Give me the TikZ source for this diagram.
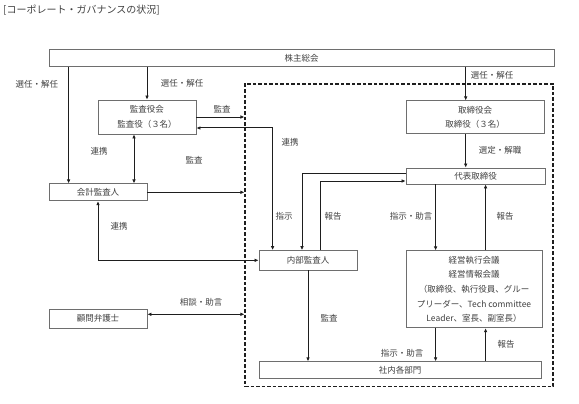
\documentclass[tikz,border=0pt]{standalone}
\usepackage{fontspec}
\setmainfont{Noto Sans CJK JP}
\usepackage{tikz}
\usetikzlibrary{calc}
\usetikzlibrary{positioning}
\usetikzlibrary{arrows.meta}

\definecolor{moji}{HTML}{404040}
\definecolor{waku}{HTML}{6E6E6E}
\definecolor{sen}{HTML}{1E1E1E}

\begin{document}
\begin{tikzpicture}[x=1pt, y=-1pt,
		every node/.style={font=\fontsize{8.5}{14.6}\selectfont, text=moji, inner sep=0pt},
		hako/.style={draw=waku, line width=0.8pt, fill=white, align=center},
		yaji/.style={draw=sen, line width=0.75pt, -{Latex[length=4pt, width=3.6pt]}},
		ryou/.style={draw=sen, line width=0.75pt, {Latex[length=4pt, width=3.6pt]}-{Latex[length=4pt, width=3.6pt]}},
		futo/.style={line width=1pt}
	]
		\useasboundingbox (0, 0) rectangle (579, 404);
		
		\node[anchor=west, font=\fontsize{10}{11}\selectfont] (title) at (3, 10) {[コーポレート・ガバナンスの状況]};
		
		% dashed frame
		\node[draw=sen, line width=1.1pt, dash pattern=on 3.5pt off 2pt, minimum width=308pt, minimum height=302.7pt] (kaisha) at (399, 235.35) {};
		
		\node[hako, minimum width=505pt, minimum height=16.7pt] (kabunushi) at (301.5, 58) {株主総会};
		\node[hako, minimum width=98pt, minimum height=34pt] (kansa) at (147, 117) {監査役会\\監査役（３名）};
		\node[hako, minimum width=138pt, minimum height=33pt] (torishimari) at (475, 117.3) {取締役会\\取締役（３名）};
		\node[hako, minimum width=139pt, minimum height=16pt] (daihyo) at (475.5, 176) {代表取締役};
		\node[hako, minimum width=98pt, minimum height=17pt] (kaikei) at (98, 192.3) {会計監査人};
		\node[hako, minimum width=98pt, minimum height=19.5pt] (naibu) at (308, 260.3) {内部監査人};
		\node[hako, minimum width=136pt, minimum height=77pt] (keiei) at (474, 289.3)
			{経営執行会議\\経営情報会議\\（取締役、執行役員、グルー\\プリーダー、Tech committee\\Leader、室長、副室長）};
		\node[hako, minimum width=282pt, minimum height=16.5pt] (shanai) at (400, 370) {社内各部門};
		\node[hako, minimum width=98pt, minimum height=19pt] (komon) at (98, 318.5) {顧問弁護士};
		
		\coordinate (p1) at ($(kaikei.north west)+(20, 0)$);
		\coordinate (p2) at ($(torishimari.north)+(-9.3, 0)$);
		\coordinate (p3) at ($(kansa.east)+(0, 11)$);
		\coordinate (p4) at ($(naibu.north west)+(14, 0)$);
		\coordinate (p5) at ($(daihyo.west)+(0, -3)$);
		\coordinate (p6) at ($(naibu.north)+(-6, 0)$);
		\coordinate (p7) at ($(naibu.north)+(12, 0)$);
		\coordinate (p8) at ($(daihyo.west)+(0, 5)$);
		\coordinate (p9) at ($(kansa.south)+(-13, 0)$);
		\coordinate (p10) at ($(keiei.north west)+(30, 0)$);
		\coordinate (p11) at ($(keiei.north west)+(80, 0)$);
		\coordinate (p12) at ($(komon.east)+(0, -4.2)$);
		
		\draw[yaji] (kabunushi.south -| p1) -- (p1);
		\draw[yaji] (kabunushi.south -| kansa.north) -- (kansa.north);
		\draw[yaji] (kabunushi.south -| p2) -- (p2);
		\draw[yaji] (kansa.east) -- (kansa.east -| kaisha.west);
		\draw[ryou, futo] (p3) -| (p4);
		\draw[yaji] (p5) -| (p6);
		\draw[yaji] (p7) |- (p8);
		\draw[ryou] (p9) -- (p9 |- kaikei.north);
		\draw[yaji, futo] (kaikei.east) -- (kaikei.east -| kaisha.west);
		\draw[ryou] (kaikei.south) |- (naibu.west);
		\draw[yaji] (torishimari.south -| p2) -- (daihyo.north -| p2);
		\draw[yaji] (daihyo.south -| p10) -- (p10);
		\draw[yaji, futo] (p11) -- (daihyo.south -| p11);
		\draw[yaji, futo] (naibu.south) -- (naibu.south |- shanai.north);
		\draw[yaji] (keiei.south -| p10) -- (shanai.north -| p10);
		\draw[yaji, futo] (shanai.north -| p11) -- (keiei.south -| p11);
		\draw[ryou] (p12) -- (p12 -| kaisha.west);
		
		\node (l1) at (37, 84) {選任・解任};
		\node (l2) at (182, 83) {選任・解任};
		\node (l3) at (492, 75) {選任・解任};
		\node (l4) at (222, 109) {監査};
		\node (l5) at (290, 142) {連携};
		\node (l6) at (284, 216) {指示};
		\node (l7) at (333, 216) {報告};
		\node (l8) at (99, 151) {連携};
		\node (l9) at (194, 160) {監査};
		\node (l10) at (119, 226) {連携};
		\node (l11) at (500, 150) {選定・解職};
		\node (l12) at (411, 216) {指示・助言};
		\node (l13) at (505, 216) {報告};
		\node (l14) at (329, 318) {監査};
		\node (l15) at (402, 353) {指示・助言};
		\node (l16) at (506, 344) {報告};
		\node (l17) at (201, 302) {相談・助言};
	\end{tikzpicture}
\end{document}
